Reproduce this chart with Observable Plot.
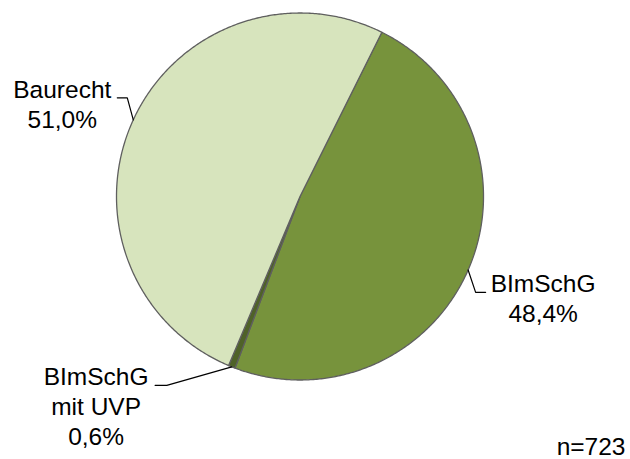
<!DOCTYPE html>
<html><head><meta charset="utf-8">
<script src="https://cdn.jsdelivr.net/npm/d3@7"></script>
<script src="https://cdn.jsdelivr.net/npm/@observablehq/plot@0.6"></script>
<style>
body{margin:0;background:#fff}
#chart svg{display:block}
</style>
</head><body><div id="chart"></div>
<script>
// ---- data ----
const categories = ["BImSchG", "BImSchG mit UVP", "Baurecht"];
const shares = [48.4, 0.6, 51.0];
const valueLabels = ["48,4%", "0,6%", "51,0%"];
const nameLabels = ["BImSchG", "BImSchG\nmit UVP", "Baurecht"];
const sampleNote = "n=723";
const sliceColors = ["#77933C", "#4F6228", "#D7E4BD"];

// ---- layout ----
const W = 630, H = 459;
const cx = 299.5, cy = 196, R = 183.5;       // pie centre / radius in px
const startDeg = 26.5;                        // first slice starts here (clockwise from 12 o'clock)
const fontSize = 24.5, lineH = 1.23;
// label placement offsets (px, from slice mid-point on the rim): elbow, end, text centre x, last baseline y
const labelLayout = [
  {elbow: [7.5, 22.3], end: [17.5, 22.3], text: [75, 52.3]},
  {elbow: [-65, 18.5], end: [-76.7, 18.5], text: [-135.7, 78.5]},
  {elbow: [-6, -22], end: [-16, -22], text: [-71, 8.5]}
];

const table = categories.map((c, i) => ({category: c, value: shares[i], label: nameLabels[i] + "\n" + valueLabels[i], color: sliceColors[i]}));
const a0 = startDeg * Math.PI / 180;
const arcs = d3.pie().sort(null).value(d => d.value).startAngle(a0).endAngle(a0 + 2 * Math.PI)(table);

const rim = (a) => ({x: Math.sin(a), y: Math.cos(a)});
const slicePts = (a) => {
  const n = Math.max(2, Math.ceil((a.endAngle - a.startAngle) / (Math.PI / 360)));
  const pts = [{x: 0, y: 0}];
  for (let k = 0; k <= n; k++) pts.push(rim(a.startAngle + (a.endAngle - a.startAngle) * k / n));
  return pts;
};
const off = (p, [dx, dy]) => ({x: p.x + dx / R, y: p.y - dy / R});

const sliceMarks = arcs.map(a => Plot.line(slicePts(a), {
  x: "x", y: "y", curve: "linear-closed", fill: a.data.color,
  stroke: "#5f5f5f", strokeWidth: 1.3, strokeLinejoin: "round"
}));

const leaderMarks = [], textRows = [];
arcs.forEach((a, i) => {
  const mid = rim((a.startAngle + a.endAngle) / 2);
  const L = labelLayout[i];
  leaderMarks.push(Plot.line([mid, off(mid, L.elbow), off(mid, L.end)], {x: "x", y: "y", stroke: "#000", strokeWidth: 1.2}));
  const t = off(mid, L.text);
  textRows.push({x: t.x, y: t.y, label: a.data.label});
});

const chart = Plot.plot({
  width: W, height: H,
  margin: 0,
  style: {fontFamily: "'Liberation Sans', Arial, sans-serif", background: "#fff"},
  x: {domain: [-cx / R, (W - cx) / R], range: [0, W], axis: null},
  y: {domain: [-(H - cy) / R, cy / R], range: [H, 0], axis: null},
  marks: [
    ...sliceMarks,
    ...leaderMarks,
    Plot.text(textRows, {x: "x", y: "y", text: "label", textAnchor: "middle", lineAnchor: "bottom",
      lineHeight: lineH, fontSize: fontSize, fill: "#000"}),
    Plot.text([sampleNote], {text: d => d, frameAnchor: "bottom-right", textAnchor: "end", lineAnchor: "bottom",
      dx: -5, dy: -5, fontSize: fontSize, fill: "#000"})
  ]
});
document.getElementById("chart").append(chart);
</script>
</body></html>
